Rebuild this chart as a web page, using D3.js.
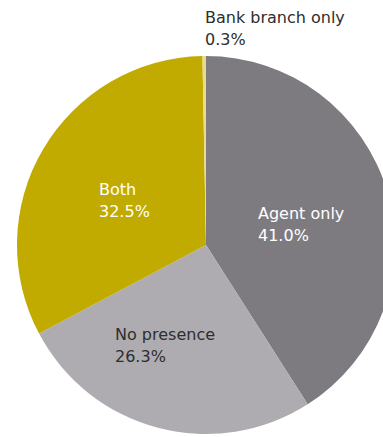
<!DOCTYPE html>
<html>
<head>
<meta charset="utf-8">
<script src="https://cdn.jsdelivr.net/npm/d3@7"></script>
<style>
  html, body { margin: 0; padding: 0; background: #ffffff; overflow: hidden; }
  svg { display: block; }
</style>
</head>
<body>
<script>
// Share of respondents by type of financial access point nearby
const categories = ["Agent only", "No presence", "Both", "Bank branch only"];
const values = [41.0, 26.3, 32.5, 0.3];
const valueLabels = ["41.0%", "26.3%", "32.5%", "0.3%"];

const sliceColors = ["#7e7b80", "#aeacb0", "#c1ab00", "#e9dc88"];
const textColors = ["#ffffff", "#2e2e2e", "#ffffff", "#2e2e2e"];
// label anchors (left edge, first baseline) relative to the pie centre
const labelOffsets = [[52, -26], [-91, 95], [-107, -50], [-1, -222]];

const width = 383, height = 437;
const cx = 206, cy = 245, radius = 189;

const svg = d3.select("body").append("svg")
  .attr("width", width)
  .attr("height", height);

const g = svg.append("g").attr("transform", `translate(${cx},${cy})`);

const pie = d3.pie().sort(null).value(d => d.value).startAngle(0).endAngle(2 * Math.PI);
const arc = d3.arc().innerRadius(0).outerRadius(radius);

const data = categories.map((c, i) => ({ name: c, value: values[i], i }));
const arcs = pie(data);

g.selectAll("path.slice")
  .data(arcs)
  .join("path")
  .attr("class", "slice")
  .attr("d", arc)
  .attr("fill", d => sliceColors[d.data.i]);

const labels = g.selectAll("text.label")
  .data(arcs)
  .join("text")
  .attr("class", "label")
  .attr("font-family", "'DejaVu Sans', Verdana, sans-serif")
  .attr("font-size", 16)
  .attr("fill", d => textColors[d.data.i])
  .attr("transform", d => `translate(${labelOffsets[d.data.i][0]},${labelOffsets[d.data.i][1]})`);

labels.append("tspan")
  .attr("x", 0).attr("y", 0)
  .text(d => d.data.name);
labels.append("tspan")
  .attr("x", 0).attr("y", 21.5)
  .text(d => valueLabels[d.data.i]);
</script>
</body>
</html>
